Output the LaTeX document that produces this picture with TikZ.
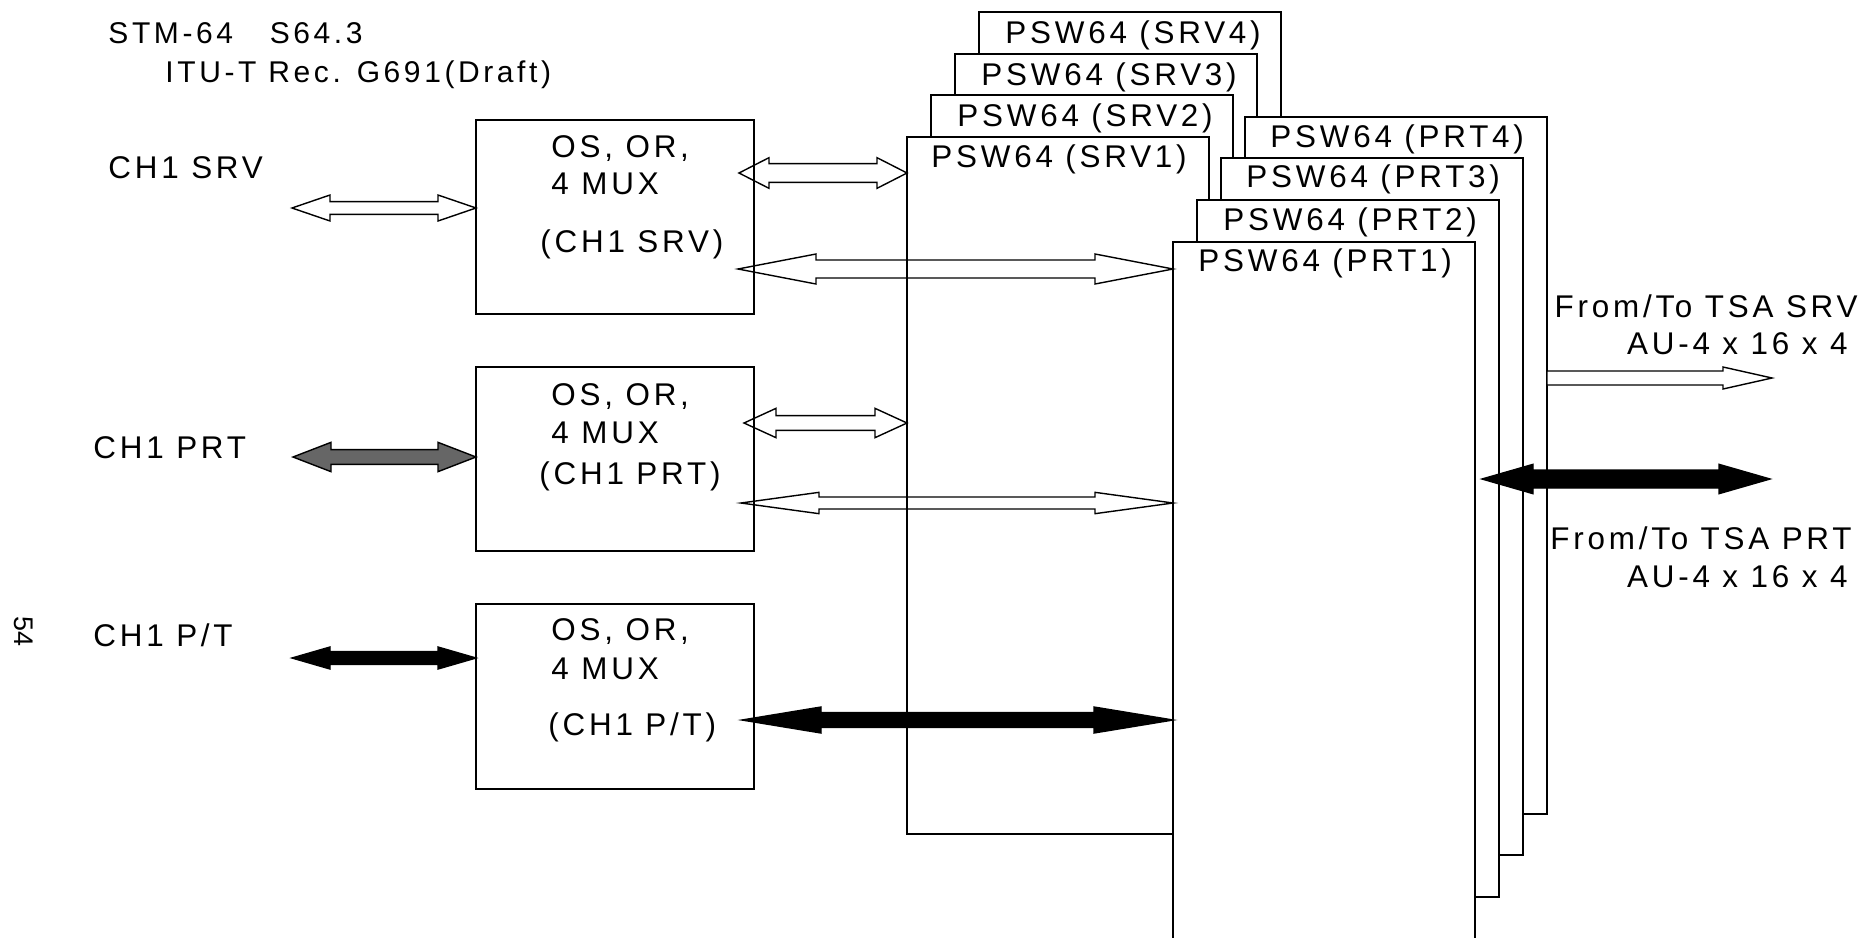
\documentclass[tikz,border=0pt]{standalone}
\usepackage{fontspec}
\setmainfont{Liberation Sans}[LetterSpace=12]
\newfontfamily\pagenofont{Liberation Sans}
\usetikzlibrary{calc}

% double headed block arrow: [style]{from}{to}{shaft half}{head half}{head length}
\newcommand{\fatarrow}[6][]{%
  \draw[#1] let \p1=(#2), \p2=(#3) in
    (\x1,\y1) -- (\x1+#6,\y1+#5) -- (\x1+#6,\y1+#4) -- (\x2-#6,\y1+#4)
    -- (\x2-#6,\y1+#5) -- (\x2,\y1) -- (\x2-#6,\y1-#5) -- (\x2-#6,\y1-#4)
    -- (\x1+#6,\y1-#4) -- (\x1+#6,\y1-#5) -- cycle;}
% single headed block arrow, same arguments
\newcommand{\fatarrowr}[6][]{%
  \draw[#1] let \p1=(#2), \p2=(#3) in
    (\x1,\y1+#4) -- (\x2-#6,\y1+#4) -- (\x2-#6,\y1+#5) -- (\x2,\y1)
    -- (\x2-#6,\y1-#5) -- (\x2-#6,\y1-#4) -- (\x1,\y1-#4) -- cycle;}

\begin{document}
\begin{tikzpicture}[
  box/.style={rectangle, draw, line width=0.8pt, inner sep=0pt, outer sep=0pt,
              anchor=north west},
  psw/.style={box, fill=white, minimum width=4.53cm, minimum height=10.455cm},
  mux/.style={box, minimum width=4.17cm},
  lbl/.style={inner sep=0pt, anchor=base west, font=\fontsize{13.4}{16}\selectfont},
  rlbl/.style={lbl, anchor=base east},
  rim/.style={line width=0.8pt},
  arrw/.style={draw, fill=white, line width=0.6pt},
  arrg/.style={draw, fill=black!60, line width=0.6pt},
  arrb/.style={draw, fill=black, line width=0.6pt}
]
  \useasboundingbox (0,0) rectangle (27.975,-14.055);

  % Title
  \node[lbl, font=\fontsize{12.8}{15}\selectfont] (title) at (1.62,-0.645)
    {STM-64\hspace{0.55cm}S64.3};
  \node[lbl, font=\fontsize{12.8}{15}\selectfont] (rec) at (2.475,-1.23)
    {ITU-T Rec. G691(Draft)};

  % Channels
  \node[lbl] (chsrv) at (1.62,-2.67) {CH1 SRV};
  \node[lbl] (chprt) at (1.395,-6.87) {CH1 PRT};
  \node[lbl] (chpt) at (1.395,-9.69) {CH1 P/T};
  \node[font=\pagenofont\fontsize{11.5}{13}\selectfont, rotate=-90, inner sep=0pt]
    (pageno) at (0.36,-9.465) {54};

  % SRV switches
  \node[psw] (srv4) at (14.685,-0.18) {};
  \node[lbl] (srv4t) at ([shift={(0.39,-0.47)}]srv4.north west) {PSW64 (SRV4)};
  \node[psw] (srv3) at (14.325,-0.805) {};
  \node[lbl] (srv3t) at ([shift={(0.39,-0.47)}]srv3.north west) {PSW64 (SRV3)};
  \node[psw] (srv2) at (13.965,-1.43) {};
  \node[lbl] (srv2t) at ([shift={(0.39,-0.47)}]srv2.north west) {PSW64 (SRV2)};
  \node[psw] (srv1) at (13.605,-2.055) {};
  \node[lbl] (srv1t) at ([shift={(0.36,-0.45)}]srv1.north west) {PSW64 (SRV1)};

  % PRT switches
  \node[psw] (prt4) at (18.675,-1.75) {};
  \node[lbl] (prt4t) at ([shift={(0.375,-0.455)}]prt4.north west) {PSW64 (PRT4)};
  \node[psw] (prt3) at (18.315,-2.375) {};
  \node[lbl] (prt3t) at ([shift={(0.375,-0.43)}]prt3.north west) {PSW64 (PRT3)};
  \node[psw] (prt2) at (17.955,-3.0) {};
  \node[lbl] (prt2t) at ([shift={(0.39,-0.45)}]prt2.north west) {PSW64 (PRT2)};
  \node[psw] (prt1) at (17.595,-3.625) {};
  \node[lbl] (prt1t) at ([shift={(0.375,-0.44)}]prt1.north west) {PSW64 (PRT1)};

  % OS, OR, 4 MUX boxes
  \node[mux, minimum height=2.91cm] (osrv) at (7.14,-1.8) {};
  \node[lbl] (osrv1) at (8.265,-2.355) {OS, OR,};
  \node[lbl] (osrv2) at (8.265,-2.91) {4 MUX};
  \node[lbl] (osrv3) at (8.10,-3.78) {(CH1 SRV)};
  \node[mux, minimum height=2.76cm] (oprt) at (7.14,-5.505) {};
  \node[lbl] (oprt1) at (8.265,-6.075) {OS, OR,};
  \node[lbl] (oprt2) at (8.265,-6.645) {4 MUX};
  \node[lbl] (oprt3) at (8.085,-7.26) {(CH1 PRT)};
  \node[mux, minimum height=2.775cm] (opt) at (7.14,-9.06) {};
  \node[lbl] (opt1) at (8.265,-9.6) {OS, OR,};
  \node[lbl] (opt2) at (8.265,-10.185) {4 MUX};
  \node[lbl] (opt3) at (8.22,-11.025) {(CH1 P/T)};

  % TSA side
  \node[rlbl] (tsasrv) at (27.87,-4.755) {From/To TSA SRV};
  \node[rlbl] (ausrv) at (27.72,-5.31) {AU-4 x 16 x 4};
  \node[rlbl] (tsaprt) at (27.78,-8.235) {From/To TSA PRT};
  \node[rlbl] (auprt) at (27.72,-8.805) {AU-4 x 16 x 4};

  % Arrow ends
  \coordinate (insrv) at (4.38,-3.12);
  \coordinate (inprt) at (4.395,-6.855);
  \coordinate (inpt) at (4.38,-9.87);
  \coordinate (s1) at (11.085,-2.595);
  \coordinate (s2) at (11.07,-4.035);
  \coordinate (p1) at (11.16,-6.345);
  \coordinate (p2) at (11.115,-7.545);
  \coordinate (t1) at (11.13,-10.8);
  \coordinate (tsa1) at (26.58,-5.67);
  \coordinate (tsa2a) at (22.23,-7.185);
  \coordinate (tsa2b) at (26.55,-7.185);

  % Line side
  \fatarrow[arrw]{insrv}{insrv -| osrv.west}{0.095cm}{0.195cm}{0.57cm}
  \fatarrow[arrg]{inprt}{inprt -| oprt.west}{0.11cm}{0.22cm}{0.57cm}
  \fatarrow[arrb]{inpt}{inpt -| opt.west}{0.095cm}{0.165cm}{0.57cm}

  % MUX to switches
  \fatarrow[arrw]{s1}{s1 -| srv1.west}{0.14cm}{0.23cm}{0.45cm}
  \fatarrow[arrw]{s2}{s2 -| prt1.west}{0.135cm}{0.225cm}{1.17cm}
  \fatarrow[arrw]{p1}{p1 -| srv1.west}{0.11cm}{0.22cm}{0.48cm}
  \fatarrow[arrw]{p2}{p2 -| prt1.west}{0.09cm}{0.16cm}{1.17cm}
  \fatarrow[arrb]{t1}{t1 -| prt1.west}{0.11cm}{0.195cm}{1.185cm}

  % Switches to TSA
  \fatarrowr[arrw]{tsa1 -| prt4.east}{tsa1}{0.105cm}{0.165cm}{0.735cm}
  \fatarrow[arrb]{tsa2a}{tsa2b}{0.135cm}{0.22cm}{0.765cm}

  % Box edges over the arrows
  \draw[rim] (srv1.north west) -- (srv1.south west);
  \draw[rim] (prt1.north west) -- (prt1.south west);
  \draw[rim] (osrv.north east) -- (osrv.south east);
  \draw[rim] (oprt.north east) -- (oprt.south east);
  \draw[rim] (opt.north east) -- (opt.south east);
\end{tikzpicture}
\end{document}
